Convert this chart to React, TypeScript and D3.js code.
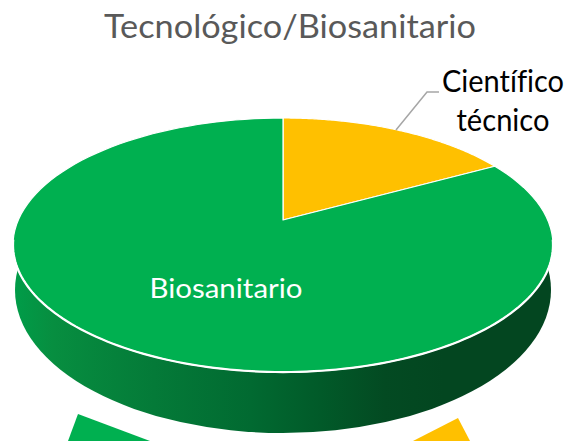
import * as d3 from "d3";

const categories = ["Científico técnico", "Biosanitario"];
const values = [17, 83];
const colors = ["#FFC000", "#00B050"];

const width = 577;
const height = 441;

// the pie is seen in perspective, so its hub is not the middle of the ellipse
const hub = { x: 283, y: 220 };
const tilt = { b: 264.7, a: 122.1, k: 0.197 };
const base = { cx: 283, cy: 290, rx: 268, ry: 143 };

// angle 0 is at the top of the pie, going clockwise
function project(angle: number): [number, number] {
  const u = Math.sin(angle);
  const v = -Math.cos(angle);
  const w = 1 - tilt.k * v;
  return [hub.x + (tilt.b * u) / w, hub.y + (tilt.a * v) / w];
}

const wallStops: [number, string][] = [
  [0, "#009C48"],
  [0.07, "#078E40"],
  [0.26, "#047A38"],
  [0.44, "#016A31"],
  [0.57, "#015A29"],
  [0.69, "#034A22"],
  [0.8, "#034620"],
  [1, "#034620"],
];

// the two arrows cut off by the bottom of the picture
const arrowLeft: [number, number][] = [[78, 414], [150, 441], [68, 441]];
const arrowRight: [number, number][] = [[458, 418], [470, 441], [413, 441]];
const leader: [number, number][] = [[396, 130], [427, 92], [439, 92]];

export default function App() {
  const pie = d3.pie<number>().sort(null)(values);
  const line = d3.line();

  const arcPoints = (start: number, end: number) =>
    d3.range(0, 121).map((i) => project(start + ((end - start) * i) / 120));

  const slicePath = (start: number, end: number) =>
    line([[hub.x, hub.y], ...arcPoints(start, end)]) + "Z";

  return (
    <svg
      width={width}
      height={height}
      style={{ position: "absolute", left: 0, top: 0, fontVariantLigatures: "none" }}
      fontFamily="Lato, Carlito, sans-serif"
    >
      <defs>
        <linearGradient id="wall" x1="0" x2="1" y1="0" y2="0">
          {wallStops.map(([o, c]) => (
            <stop key={o} offset={o} stopColor={c} />
          ))}
        </linearGradient>
      </defs>
      <text x={290} y={38} fontSize={33} fill="#595959" textAnchor="middle" textLength={372} lengthAdjust="spacingAndGlyphs">
        Tecnológico/Biosanitario
      </text>

      <ellipse cx={base.cx} cy={base.cy} rx={base.rx} ry={base.ry} fill="url(#wall)" />

      {pie.map((d, i) => (
        <path
          key={categories[i]}
          d={slicePath(d.startAngle, d.endAngle)}
          fill={colors[i]}
          stroke="#fff"
          strokeWidth={1.2}
          strokeLinejoin="round"
        />
      ))}
      {/* heavier white rim along the front edge */}
      <path
        d={line(arcPoints(Math.PI * 0.55, Math.PI * 1.45)) ?? ""}
        fill="none"
        stroke="#fff"
        strokeWidth={2.2}
      />

      <path d={line(leader) ?? ""} fill="none" stroke="#A6A6A6" strokeWidth={1.5} />
      <text x={503} y={92} fontSize={30} fill="#000" textAnchor="middle" textLength={122} lengthAdjust="spacingAndGlyphs">
        Científico
      </text>
      <text x={503} y={131} fontSize={30} fill="#000" textAnchor="middle" textLength={93} lengthAdjust="spacingAndGlyphs">
        técnico
      </text>
      <text x={226} y={298} fontSize={27} fill="#fff" textAnchor="middle" textLength={153} lengthAdjust="spacingAndGlyphs">
        Biosanitario
      </text>

      <path d={line(arrowLeft) + "Z"} fill="#00B050" />
      <path d={line(arrowRight) + "Z"} fill="#FFC000" />
    </svg>
  );
}
